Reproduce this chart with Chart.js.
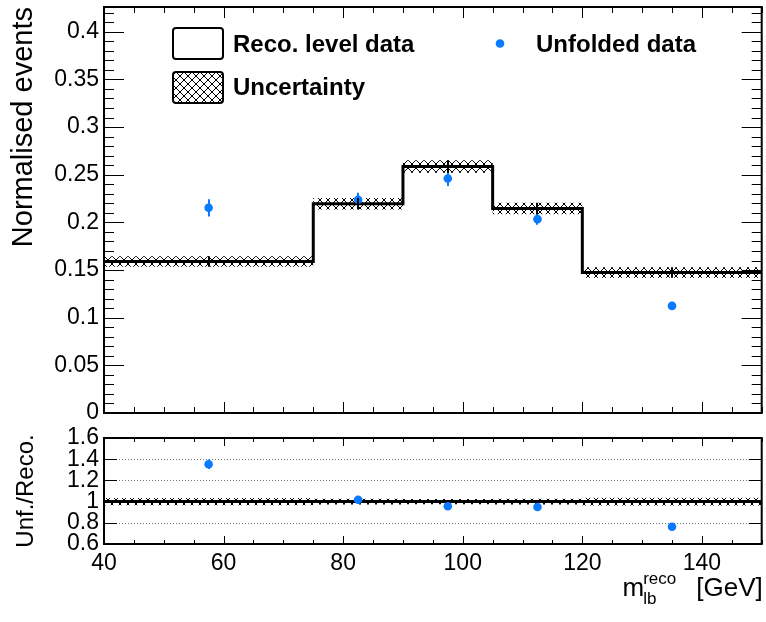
<!DOCTYPE html>
<html>
<head>
<meta charset="utf-8">
<script src="https://cdn.jsdelivr.net/npm/chart.js@4.4.1/dist/chart.umd.min.js"></script>
<style>
html,body{margin:0;padding:0;background:#fff;}
#wrap{position:relative;width:766px;height:622px;overflow:hidden;}
#wrap canvas{position:absolute;left:0;top:0;}
</style>
</head>
<body>
<div id="wrap">
  <canvas id="topChart" width="766" height="622"></canvas>
  <canvas id="ratioChart" width="766" height="622"></canvas>
</div>
<script>
// ---------------- data ----------------
const binEdges = [40, 75, 90, 105, 120, 150];
const binCenters = [57.5, 82.5, 97.5, 112.5, 135];
const recoValues = [0.1589, 0.2195, 0.2587, 0.2146, 0.1474];
const recoErrors = [0.0055, 0.0060, 0.0065, 0.0060, 0.0055];
const recoUncertainty = [0.0055, 0.0060, 0.0065, 0.0060, 0.0055];
const unfoldedValues = [0.2153, 0.2237, 0.2461, 0.2034, 0.1124];
const unfoldedErrors = [0.0090, 0.0075, 0.0080, 0.0060, 0.0030];
const ratioValues = [1.352, 1.018, 0.956, 0.949, 0.763];
const ratioErrors = [0.045, 0.030, 0.030, 0.028, 0.020];
const ratioReference = [1, 1, 1, 1, 1];
const ratioUncertainty = [0.035, 0.027, 0.025, 0.028, 0.037];
const xMajorTicks = [40, 60, 80, 100, 120, 140];
const xMinorTicks = [45, 50, 55, 65, 70, 75, 85, 90, 95, 105, 110, 115, 125, 130, 135, 145, 150];
const yMajorTicksTop = [0, 0.05, 0.1, 0.15, 0.2, 0.25, 0.3, 0.35, 0.4];
const yMajorTicksRatio = [0.6, 0.8, 1.0, 1.2, 1.4, 1.6];
const ratioGridLines = [0.8, 1.0, 1.2, 1.4];
const legendLabels = ['Reco. level data', 'Uncertainty', 'Unfolded data'];
const yTitleTop = 'Normalised events';
const yTitleRatio = 'Unf./Reco.';

// ---------------- helpers ----------------
const FONT = '"Liberation Sans", Arial, Helvetica, sans-serif';
const BLUE = '#0a7aff';

function yMinorTop() {
  const out = [];
  for (let k = 1; k <= 42; k++) { if (k % 5 !== 0) out.push(k / 100); }
  return out;
}

function stepPoints(vals, shifts, sign) {
  const pts = vals.map((v, i) => ({ x: binEdges[i], y: v + sign * shifts[i] }));
  const last = vals.length - 1;
  pts.push({ x: binEdges[binEdges.length - 1], y: vals[last] + sign * shifts[last] });
  return pts;
}

function makeHatch() {
  const c = document.createElement('canvas');
  c.width = 8; c.height = 8;
  const g = c.getContext('2d');
  g.strokeStyle = '#000';
  g.lineWidth = 1;
  g.beginPath();
  g.moveTo(-2, -2); g.lineTo(10, 10);
  g.moveTo(10, -2); g.lineTo(-2, 10);
  g.stroke();
  return document.getElementById('topChart').getContext('2d').createPattern(c, 'repeat');
}
const HATCH = makeHatch();

// error bars plugin
const errorBarsPlugin = {
  id: 'errorBars',
  afterDatasetsDraw(chart) {
    const ctx = chart.ctx;
    const xs = chart.scales.x, ys = chart.scales.y;
    const list = chart.data.datasets.filter(d => d.errors).sort((a, b) => a.errLayer - b.errLayer);
    ctx.save();
    ctx.beginPath();
    ctx.rect(chart.chartArea.left, chart.chartArea.top, chart.chartArea.right - chart.chartArea.left, chart.chartArea.bottom - chart.chartArea.top);
    ctx.clip();
    list.forEach(d => {
      ctx.strokeStyle = d.errColor;
      ctx.lineWidth = d.errWidth;
      d.errors.forEach((e, i) => {
        const x = Math.round(xs.getPixelForValue(d.errX[i]));
        const y1 = ys.getPixelForValue(d.errY[i] - e);
        const y2 = ys.getPixelForValue(d.errY[i] + e);
        ctx.beginPath();
        ctx.moveTo(x, y1);
        ctx.lineTo(x, y2);
        ctx.stroke();
      });
    });
    ctx.restore();
  }
};

// frame + inside ticks plugin
const frameTicksPlugin = {
  id: 'frameTicks',
  afterDraw(chart, args, opts) {
    const ctx = chart.ctx;
    const a = chart.chartArea;
    const xs = chart.scales.x, ys = chart.scales.y;
    ctx.save();
    ctx.strokeStyle = '#000';
    ctx.lineWidth = 1;
    const tick = (x1, y1, x2, y2) => { ctx.beginPath(); ctx.moveTo(x1, y1); ctx.lineTo(x2, y2); ctx.stroke(); };
    opts.yMajor.forEach(v => { const y = Math.round(ys.getPixelForValue(v)) + 0.5; tick(a.left, y, a.left + opts.yMajorLen, y); tick(a.right, y, a.right - opts.yMajorLen, y); });
    opts.yMinor.forEach(v => { const y = Math.round(ys.getPixelForValue(v)) + 0.5; tick(a.left, y, a.left + opts.yMinorLen, y); tick(a.right, y, a.right - opts.yMinorLen, y); });
    opts.xMajor.forEach(v => { const x = Math.round(xs.getPixelForValue(v)) + 0.5; tick(x, a.bottom, x, a.bottom - opts.xMajorLen); tick(x, a.top, x, a.top + opts.xMajorLen); });
    opts.xMinor.forEach(v => { const x = Math.round(xs.getPixelForValue(v)) + 0.5; tick(x, a.bottom, x, a.bottom - opts.xMinorLen); tick(x, a.top, x, a.top + opts.xMinorLen); });
    ctx.lineWidth = 2;
    ctx.strokeRect(a.left, a.top, a.right - a.left, a.bottom - a.top);
    ctx.restore();
  }
};

// dotted grid plugin (ratio)
const dottedGridPlugin = {
  id: 'dottedGrid',
  beforeDatasetsDraw(chart, args, opts) {
    if (!opts.values) return;
    const ctx = chart.ctx, a = chart.chartArea, ys = chart.scales.y;
    ctx.save();
    ctx.strokeStyle = '#777';
    ctx.lineWidth = 1;
    ctx.setLineDash([1, 2]);
    opts.values.forEach(v => {
      const y = Math.round(ys.getPixelForValue(v)) + 0.5;
      ctx.beginPath(); ctx.moveTo(a.left, y); ctx.lineTo(a.right, y); ctx.stroke();
    });
    ctx.restore();
  }
};

// legend plugin (top)
const legendPlugin = {
  id: 'rootLegend',
  afterDraw(chart) {
    const ctx = chart.ctx;
    ctx.save();
    ctx.lineWidth = 2;
    ctx.strokeStyle = '#000';
    const box = (x, y, w, h, fill) => {
      ctx.beginPath();
      ctx.roundRect(x, y, w, h, 3);
      ctx.fillStyle = fill;
      ctx.fill();
      ctx.stroke();
    };
    box(173, 28, 50, 31, '#fff');
    box(173, 72, 50, 31, HATCH);
    ctx.fillStyle = '#000';
    ctx.font = 'bold 24px ' + FONT;
    ctx.textBaseline = 'middle';
    ctx.textAlign = 'left';
    ctx.fillText(legendLabels[0], 233, 45);
    ctx.fillText(legendLabels[1], 233, 88);
    ctx.fillText(legendLabels[2], 536, 45);
    ctx.fillStyle = BLUE;
    ctx.beginPath();
    ctx.arc(500, 43.5, 4.3, 0, Math.PI * 2);
    ctx.fill();
    ctx.restore();
  }
};

// x axis title plugin (ratio)
const xTitlePlugin = {
  id: 'xTitle',
  afterDraw(chart) {
    const ctx = chart.ctx, a = chart.chartArea;
    ctx.save();
    ctx.fillStyle = '#000';
    ctx.textBaseline = 'alphabetic';
    ctx.textAlign = 'left';
    ctx.font = '26px ' + FONT;
    const gev = '[GeV]';
    const wG = ctx.measureText(gev).width;
    const xG = a.right - wG + 1;
    ctx.fillText(gev, xG, 596);
    ctx.font = '17px ' + FONT;
    const wR = ctx.measureText('reco').width;
    const xS = xG - 20 - wR;
    ctx.fillText('reco', xS, 584);
    ctx.fillText('lb', xS, 604);
    ctx.font = '26px ' + FONT;
    const wM = ctx.measureText('m').width;
    ctx.fillText('m', xS - wM + 1, 596);
    ctx.restore();
  }
};

const fmt = v => String(+Number(v).toFixed(2));

// ---------------- top chart ----------------
new Chart(document.getElementById('topChart'), {
  type: 'line',
  data: {
    datasets: [
      {
        type: 'scatter', label: legendLabels[2],
        data: binCenters.map((x, i) => ({ x, y: unfoldedValues[i] })),
        pointRadius: 4.3, pointBackgroundColor: BLUE, pointBorderWidth: 0, showLine: false,
        errors: unfoldedErrors, errX: binCenters, errY: unfoldedValues, errColor: BLUE, errWidth: 2, errLayer: 0
      },
      {
        label: legendLabels[0], data: stepPoints(recoValues, recoValues.map(() => 0), 1),
        stepped: true, borderColor: '#000', borderWidth: 3, pointRadius: 0, fill: false,
        errors: recoErrors, errX: binCenters, errY: recoValues, errColor: '#000', errWidth: 2, errLayer: 1
      },
      {
        label: 'unc-hi', data: stepPoints(recoValues, recoUncertainty, 1),
        stepped: true, borderColor: 'rgba(0,0,0,0)', borderWidth: 0, pointRadius: 0,
        fill: '+1', backgroundColor: HATCH
      },
      {
        label: 'unc-lo', data: stepPoints(recoValues, recoUncertainty, -1),
        stepped: true, borderColor: 'rgba(0,0,0,0)', borderWidth: 0, pointRadius: 0, fill: false
      }
    ]
  },
  options: {
    responsive: false, animation: false, devicePixelRatio: 1,
    layout: { padding: { top: 7, left: 0, right: 4, bottom: 209 } },
    plugins: {
      legend: { display: false }, tooltip: { enabled: false },
      frameTicks: { yMajor: yMajorTicksTop, yMinor: yMinorTop(), yMajorLen: 20, yMinorLen: 10, xMajor: xMajorTicks, xMinor: xMinorTicks, xMajorLen: 11, xMinorLen: 6 }
    },
    scales: {
      x: { type: 'linear', min: 40, max: 150, display: false },
      y: {
        type: 'linear', min: 0, max: 0.426, position: 'left',
        grid: { display: false, drawTicks: false }, border: { display: false },
        ticks: { stepSize: 0.05, includeBounds: false, autoSkip: false, padding: 5, color: '#000', font: { family: FONT, size: 23 }, callback: fmt },
        title: { display: true, text: yTitleTop, align: 'end', color: '#000', font: { family: FONT, size: 29 }, padding: { top: 7, bottom: 0 } },
        afterFit: s => { s.width = 104; s.paddingTop = 0; s.paddingBottom = 0; }
      }
    }
  },
  plugins: [errorBarsPlugin, frameTicksPlugin, legendPlugin]
});

// ---------------- ratio chart ----------------
new Chart(document.getElementById('ratioChart'), {
  type: 'line',
  data: {
    datasets: [
      {
        type: 'scatter', label: 'ratio',
        data: binCenters.map((x, i) => ({ x, y: ratioValues[i] })),
        pointRadius: 4.3, pointBackgroundColor: BLUE, pointBorderWidth: 0, showLine: false,
        errors: ratioErrors, errX: binCenters, errY: ratioValues, errColor: BLUE, errWidth: 2, errLayer: 0
      },
      {
        label: 'ref', data: stepPoints(ratioReference, ratioReference.map(() => 0), 1),
        stepped: true, borderColor: '#000', borderWidth: 3, pointRadius: 0, fill: false
      },
      {
        label: 'r-hi', data: stepPoints(ratioReference, ratioUncertainty, 1),
        stepped: true, borderColor: 'rgba(0,0,0,0)', borderWidth: 0, pointRadius: 0,
        fill: '+1', backgroundColor: HATCH
      },
      {
        label: 'r-lo', data: stepPoints(ratioReference, ratioUncertainty, -1),
        stepped: true, borderColor: 'rgba(0,0,0,0)', borderWidth: 0, pointRadius: 0, fill: false
      }
    ]
  },
  options: {
    responsive: false, animation: false, devicePixelRatio: 1,
    layout: { padding: { top: 438, left: 0, right: 4, bottom: 0 } },
    plugins: {
      legend: { display: false }, tooltip: { enabled: false },
      dottedGrid: { values: ratioGridLines },
      frameTicks: { yMajor: yMajorTicksRatio, yMinor: [], yMajorLen: 13, yMinorLen: 6, xMajor: xMajorTicks, xMinor: xMinorTicks, xMajorLen: 8, xMinorLen: 4 }
    },
    scales: {
      x: {
        type: 'linear', min: 40, max: 150, position: 'bottom',
        grid: { display: false, drawTicks: false }, border: { display: false },
        ticks: { stepSize: 20, includeBounds: false, padding: 6, color: '#000', font: { family: FONT, size: 23 }, maxRotation: 0, autoSkip: false, callback: fmt },
        afterFit: s => { s.height = 78; s.paddingLeft = 0; s.paddingRight = 0; }
      },
      y: {
        type: 'linear', min: 0.6, max: 1.6, position: 'left',
        grid: { display: false, drawTicks: false }, border: { display: false },
        ticks: { stepSize: 0.2, includeBounds: false, autoSkip: false, padding: 5, color: '#000', font: { family: FONT, size: 23, lineHeight: 0.9 }, callback: fmt },
        title: { display: true, text: yTitleRatio, align: 'center', color: '#000', font: { family: FONT, size: 24 }, padding: { top: 12, bottom: 0 } },
        afterFit: s => { s.width = 104; s.paddingTop = 0; s.paddingBottom = 0; }
      }
    }
  },
  plugins: [dottedGridPlugin, errorBarsPlugin, frameTicksPlugin, xTitlePlugin]
});
</script>
</body>
</html>
